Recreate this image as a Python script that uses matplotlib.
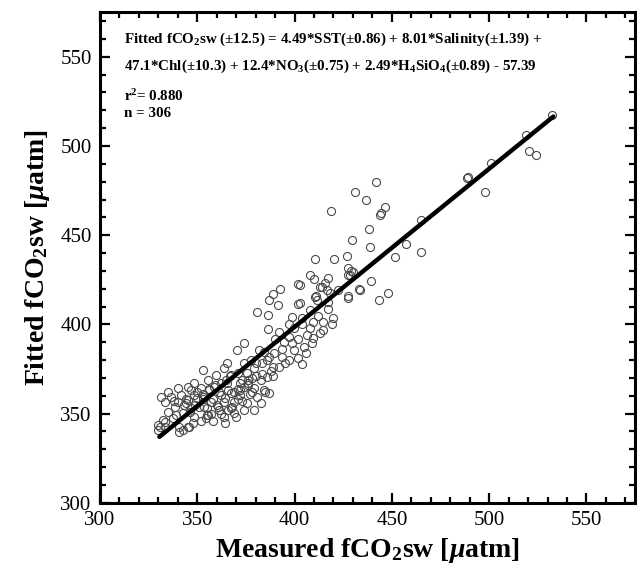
import matplotlib
matplotlib.use("Agg")
import matplotlib.pyplot as plt
from matplotlib.ticker import MultipleLocator

plt.rcParams['font.family'] = ['Liberation Serif', 'DejaVu Serif']
plt.rcParams['mathtext.fontset'] = 'custom'
plt.rcParams['mathtext.rm'] = 'Liberation Serif:bold'
plt.rcParams['mathtext.it'] = 'Liberation Serif:italic:bold'
plt.rcParams['mathtext.bf'] = 'Liberation Serif:bold'

# measured / fitted fCO2sw (uatm)
measured = [
    # upper sparse part
    441.7, 431.0, 436.6, 446.6, 444.6, 444.0, 418.5, 438.3, 465.0, 429.3,
    439.0, 457.3, 465.0, 451.7, 427.0, 420.4, 410.5, 427.6, 439.4, 433.2,
    448.0, 427.2, 408.0, 410.2, 417.3, 415.6, 413.9, 416.9, 427.6, 430.1,
    410.9, 402.9, 488.8, 532.1, 519.0, 520.7, 524.0, 501.2, 489.3, 498.1,
    428.9, 413.1, 401.7, 392.7, 388.8, 387.0, 391.5, 402.0, 403.0, 410.5,
    411.4, 417.3, 418.2, 422.4, 427.2, 433.5, 428.4, 443.4,
    # middle part
    380.8, 386.4, 398.6, 403.7, 408.0, 417.3, 412.2, 419.9, 414.8, 409.7,
    419.0, 403.7, 396.9, 386.4, 391.8, 399.5, 408.0, 414.8, 406.3, 409.7,
    413.1, 396.9, 402.0, 390.1, 394.4, 398.6, 404.6, 408.8, 393.5, 399.5,
    389.3, 393.5, 396.9, 402.0, 385.9, 384.2, 380.0, 395.2, 381.6, 386.7,
    383.3, 377.4, 392.0, 388.0, 404.0, 406.0, 389.0, 380.0, 376.0, 372.0,
    # dense lower part
    370.6, 374.0, 352.7, 363.8, 365.5, 374.0, 379.1, 359.5, 367.2, 375.7,
    348.5, 355.3, 365.5, 382.5, 385.9, 340.0, 345.0, 351.8, 358.7, 374.0,
    379.1, 384.2, 334.8, 336.6, 341.7, 348.5, 352.7, 362.0, 367.2, 372.2,
    380.8, 386.7, 331.5, 333.2, 340.0, 345.0, 357.0, 363.8, 368.9, 375.7,
    382.5, 338.3, 346.8, 353.6, 360.4, 367.2, 374.0, 379.1, 334.8, 342.5,
    355.3, 363.8, 368.9, 332.3, 337.4, 348.5, 354.4, 333.2, 329.7, 340.8,
    342.5, 345.0, 347.6, 340.8, 345.9, 330.6, 333.2, 329.6,
    350.0, 356.0, 361.0, 366.0, 371.0, 376.0, 353.0, 358.0, 364.0, 369.0,
    343.0, 349.0, 355.0, 360.0, 366.0, 371.0, 377.0, 344.0, 350.0, 357.0,
    362.0, 368.0, 373.0, 339.0, 346.0, 352.0, 358.0, 364.0, 370.0, 376.0,
    347.0, 353.0, 359.0, 365.0, 371.0, 338.0, 344.0, 351.0, 356.0, 362.0,
    367.0, 373.0, 378.0, 383.0, 389.0, 385.0, 378.0, 372.0, 361.0, 355.0,
]
fitted = [
    479.9, 474.3, 469.7, 465.9, 462.5, 461.5, 463.5, 453.2, 458.5, 447.3,
    443.2, 445.0, 440.7, 437.6, 438.5, 436.6, 436.6, 431.4, 424.5, 419.6,
    417.7, 415.9, 427.7, 425.2, 425.8, 423.3, 421.1, 419.3, 427.7, 429.5,
    415.9, 422.0, 481.8, 517.6, 506.0, 497.2, 494.8, 490.5, 482.4, 474.3,
    430.0, 420.8, 422.4, 419.6, 417.0, 413.7, 410.9, 411.4, 412.0, 415.5,
    413.7, 412.7, 417.4, 419.3, 414.6, 419.3, 427.7, 413.7,
    407.1, 405.3, 404.3, 403.4, 408.1, 408.5, 404.7, 403.4, 401.5, 401.5,
    400.2, 400.2, 400.2, 397.3, 395.9, 397.8, 397.8, 396.9, 394.0, 392.2,
    395.0, 393.1, 391.7, 391.7, 390.3, 389.4, 387.5, 389.8, 386.0, 385.7,
    383.8, 381.9, 380.0, 381.0, 380.0, 384.7, 378.2, 378.2, 385.7, 381.9,
    378.2, 380.0, 376.0, 374.0, 378.0, 384.0, 371.0, 371.0, 369.0, 367.0,
    385.7, 389.4, 374.5, 375.4, 378.2, 378.2, 375.4, 371.7, 371.7, 372.6,
    367.4, 368.9, 367.0, 368.9, 370.7, 364.1, 365.1, 364.1, 365.1, 365.1,
    364.1, 363.3, 362.3, 359.5, 360.5, 360.5, 359.5, 360.5, 361.4, 360.5,
    359.5, 361.4, 359.5, 356.7, 356.7, 357.7, 356.7, 356.7, 356.7, 355.8,
    355.8, 353.9, 353.0, 353.9, 353.9, 353.0, 352.1, 352.1, 351.1, 350.2,
    349.3, 348.3, 350.2, 346.5, 347.4, 348.0, 347.4, 342.7, 340.9, 342.7,
    340.9, 342.7, 344.6, 339.9, 342.7, 342.7, 345.5, 343.6,
    362.0, 363.0, 362.0, 363.0, 364.0, 367.0, 358.0, 358.0, 359.0, 362.0,
    355.0, 355.0, 353.0, 355.0, 352.0, 358.0, 361.0, 358.0, 359.0, 350.0,
    350.0, 354.0, 357.0, 349.0, 351.0, 346.0, 346.0, 345.0, 348.0, 366.0,
    363.0, 361.0, 366.0, 369.0, 373.0, 357.0, 356.0, 354.0, 364.0, 367.0,
    371.0, 369.0, 370.0, 372.0, 376.0, 362.0, 362.0, 363.0, 352.0, 349.0,
]

# regression line end points
fit_x = [330.5, 533.0]
fit_y = [337.0, 516.5]

fig = plt.figure(figsize=(6.37, 5.78), dpi=100)
ax = fig.add_axes([0.157, 0.130, 0.840, 0.849])

ax.plot(measured, fitted, 'o', ms=5.8, mfc='none', mec='#4a4a4a', mew=0.8)
ax.plot(fit_x, fit_y, '-', color='black', lw=3.2, solid_capstyle='round')

ax.set_xlim(300, 575)
ax.set_ylim(300, 575)
ax.xaxis.set_major_locator(MultipleLocator(50))
ax.yaxis.set_major_locator(MultipleLocator(50))
ax.xaxis.set_minor_locator(MultipleLocator(10))
ax.yaxis.set_minor_locator(MultipleLocator(10))
ax.tick_params(which='both', direction='in', top=True, right=True, width=1.6)
ax.tick_params(which='major', length=7, labelsize=15, pad=6)
ax.tick_params(which='minor', length=4)
for s in ax.spines.values():
    s.set_linewidth(2.2)

ax.set_xlabel(r'Measured fCO$_2$sw [$\mu$atm]', fontsize=20, fontweight='bold', labelpad=4)
ax.set_ylabel(r'Fitted fCO$_2$sw [$\mu$atm]', fontsize=20, fontweight='bold', labelpad=6)

txt = dict(transform=ax.transAxes, fontsize=10.8, fontweight='bold', ha='left', va='center')
ax.text(0.045, 0.945, r'Fitted fCO$_2$sw ($\pm$12.5) = 4.49*SST($\pm$0.86) + 8.01*Salinity($\pm$1.39) +', **txt)
ax.text(0.045, 0.890, r'47.1*Chl($\pm$10.3) + 12.4*NO$_3$($\pm$0.75) + 2.49*H$_4$SiO$_4$($\pm$0.89) - 57.39', **txt)
ax.text(0.045, 0.830, r'r$^2$= 0.880', **txt)
ax.text(0.045, 0.793, 'n = 306', **txt)

fig.savefig('out.png', dpi=100)
